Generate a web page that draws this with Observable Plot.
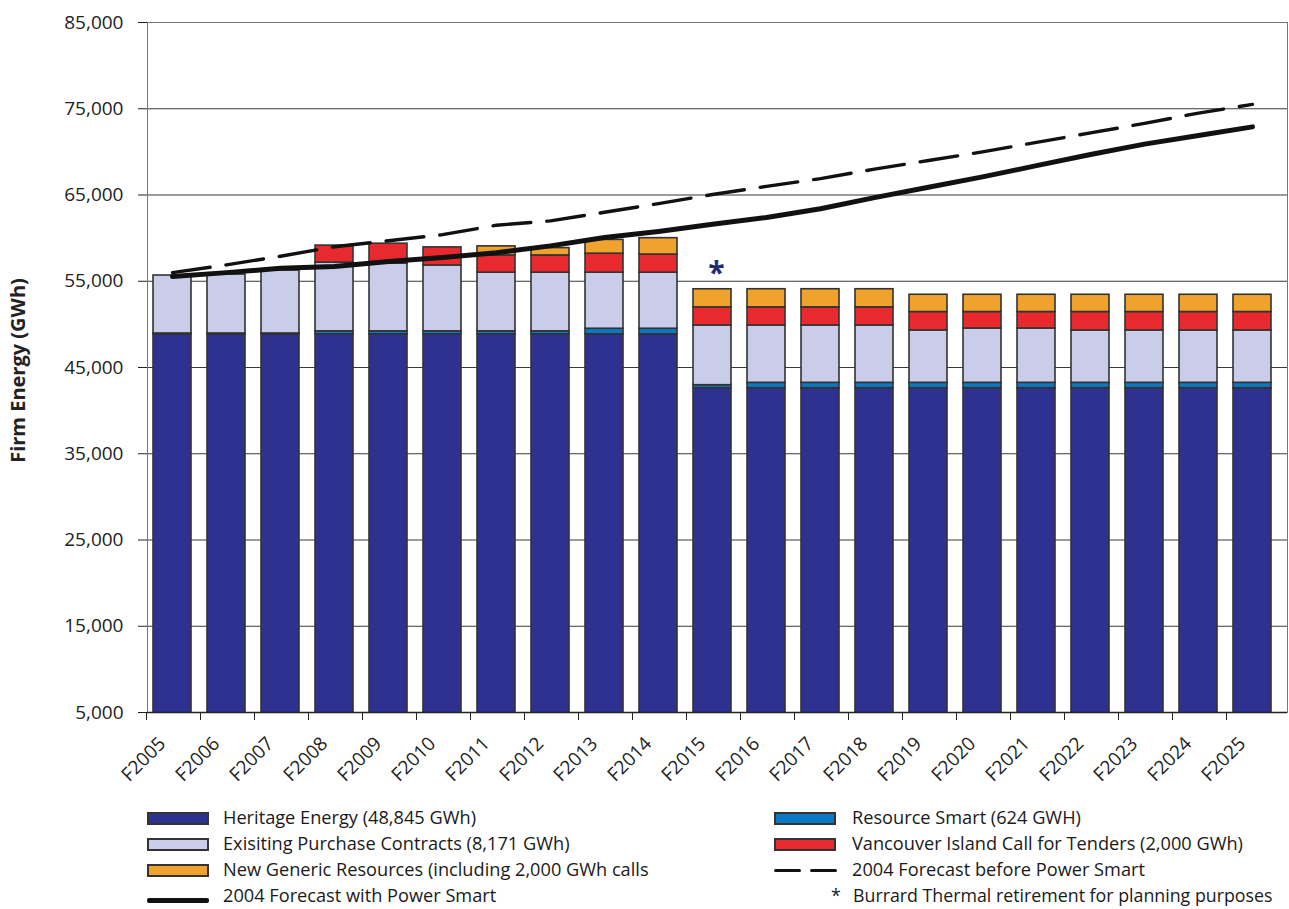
<!DOCTYPE html>
<html><head><meta charset="utf-8">
<script src="https://cdn.jsdelivr.net/npm/d3@7"></script>
<script src="https://cdn.jsdelivr.net/npm/@observablehq/plot@0.6"></script>
<style>
body{margin:0;background:#fff;font-family:"Open Sans",sans-serif;}
#wrap{position:relative;width:1289px;height:909px;overflow:hidden;background:#fff}
.leg{position:absolute;font-size:18.2px;color:#1a1a1a;white-space:nowrap;line-height:20px;height:21px}
.sw{position:absolute;width:58px;height:9px;border:2px solid #333;}
.ln{position:absolute;height:5px;background:#111;border-radius:2px}
</style></head><body><div id="wrap"><div id="chart"></div></div>
<script>
const years = ["F2005","F2006","F2007","F2008","F2009","F2010","F2011","F2012","F2013","F2014","F2015","F2016","F2017","F2018","F2019","F2020","F2021","F2022","F2023","F2024","F2025"];
const heritage = [48845,48845,48845,48845,48845,48845,48845,48845,48845,48845,42600,42600,42600,42600,42600,42600,42600,42600,42600,42600,42600];
const resourceSmart = [100,100,100,350,350,350,350,350,650,650,350,624,624,624,624,624,624,624,624,624,624];
const contracts = [6720,6830,7300,7970,7860,7630,6800,6800,6500,6500,6920,6650,6650,6650,6070,6300,6300,6070,6070,6070,6070];
const vancouver = [0,0,0,1970,2300,2100,2000,2000,2200,2100,2100,2100,2100,2100,2140,1910,1910,2140,2140,2140,2140];
const generic = [0,0,0,0,0,0,1050,850,1600,1900,2100,2100,2100,2100,2000,2000,2000,2000,2000,2000,2000];
const forecastWithPS = [55550,56000,56500,56700,57300,57750,58300,59100,60070,60770,61600,62400,63400,64700,65900,67100,68400,69700,70900,71900,72900];
const forecastBeforePS = [56000,56900,57900,59000,59700,60400,61500,62000,63000,64000,65060,66000,66900,68000,69000,70000,71100,72200,73300,74500,75500];
const yTicks = [5000,15000,25000,35000,45000,55000,65000,75000,85000];
const gridTicks = [15000,25000,35000,45000,55000,65000,75000];

const seriesNames = ["Heritage Energy","Resource Smart","Existing Purchase Contracts","Vancouver Island Call for Tenders","New Generic Resources"];
const seriesColors = ["#2e3190","#0a78c2","#c9cde9","#e8292d","#efa22c"];
const seriesValues = [heritage, resourceSmart, contracts, vancouver, generic];

const stackData = [];
years.forEach((yr, i) => {
  seriesValues.forEach((vals, s) => stackData.push({year: yr, series: seriesNames[s], value: vals[i]}));
});
const lineWith = years.map((yr, i) => ({year: yr, value: forecastWithPS[i]}));
const lineBefore = years.map((yr, i) => ({year: yr, value: forecastBeforePS[i]}));

const chart = Plot.plot({
  width: 1289,
  height: 800,
  marginLeft: 147,
  marginRight: 2,
  marginTop: 22,
  marginBottom: 88,
  style: {fontFamily: "Open Sans, sans-serif", color: "#222", background: "#fff"},
  x: {domain: years, paddingInner: 0.3, paddingOuter: 0.15, insetRight: 6},
  y: {domain: [5000, 85000]},
  color: {domain: seriesNames, range: seriesColors},
  marks: [
    Plot.gridY(gridTicks, {stroke: "#3a3a3a", strokeOpacity: 1, strokeWidth: 1.1}),
    Plot.barY(stackData, {x: "year", y: "value", fill: "series", stroke: "#333", strokeWidth: 1.6, clip: true, dx: -2, order: null}),
    Plot.line(lineBefore, {x: "year", y: "value", stroke: "#111", strokeWidth: 3.4, strokeDasharray: "38,16", dx: -2}),
    Plot.line(lineWith, {x: "year", y: "value", stroke: "#111", strokeWidth: 5, strokeLinecap: "round", dx: -2}),
    Plot.text([{year: "F2015", value: 56500}], {x: "year", y: "value", text: () => "*", fontSize: 30, fontWeight: "bold", fill: "#1f2d6f", dx: 2, dy: 5}),
    Plot.frame({stroke: "#777", strokeWidth: 1}),
    Plot.axisY(yTicks, {tickFormat: d3.format(","), tickSize: 9, tickPadding: 15, fontSize: 19, label: null, stroke: "#222"}),
    Plot.axisX({tickSize: 8, text: null, dx: -28, stroke: "#222", label: null}),
    Plot.axisX({tickSize: 0, tickPadding: 0, tickRotate: -45, textAnchor: "end", lineAnchor: "middle", fontSize: 19, dx: -12, dy: 28, label: null}),
    Plot.ruleY([5000], {stroke: "#222", strokeWidth: 1.5}),
    Plot.text(["Firm Energy (GWh)"], {frameAnchor: "left", textAnchor: "middle", dx: -129, dy: 3, rotate: -90, text: d => d, fontSize: 20, fontWeight: "bold", fill: "#222"})
  ]
});
document.getElementById("chart").appendChild(chart);

// Legend
const wrap = document.getElementById("wrap");
function add(html){ wrap.insertAdjacentHTML("beforeend", html); }
const legendItems = [
  {kind: "box", color: seriesColors[0], text: "Heritage Energy (48,845 GWh)", x: 147, tx: 223, y: 818},
  {kind: "box", color: seriesColors[2], text: "Exisiting Purchase Contracts (8,171 GWh)", x: 147, tx: 223, y: 844},
  {kind: "box", color: seriesColors[4], text: "New Generic Resources (including 2,000 GWh calls", x: 147, tx: 223, y: 870},
  {kind: "solid", text: "2004 Forecast with Power Smart", x: 147, tx: 223, y: 896},
  {kind: "box", color: seriesColors[1], text: "Resource Smart (624 GWH)", x: 774, tx: 852, y: 818},
  {kind: "box", color: seriesColors[3], text: "Vancouver Island Call for Tenders (2,000 GWh)", x: 774, tx: 852, y: 844},
  {kind: "dash", text: "2004 Forecast before Power Smart", x: 774, tx: 852, y: 870},
  {kind: "star", text: "<span style=\"display:inline-block;width:22px\">*</span>Burrard Thermal retirement for planning purposes", x: 831, tx: 831, y: 896}
];
legendItems.forEach(it => {
  if (it.kind === "box") add(`<div class="sw" style="left:${it.x}px;top:${it.y-6}px;background:${it.color}"></div>`);
  else if (it.kind === "solid") add(`<div class="ln" style="left:${it.x}px;top:${it.y+2}px;width:62px"></div>`);
  else if (it.kind === "dash") { add(`<div class="ln" style="left:${it.x}px;top:${it.y-1}px;width:27px;height:3px"></div>`); add(`<div class="ln" style="left:${it.x+36}px;top:${it.y-1}px;width:27px;height:3px"></div>`); }
  const fs = it.kind === "star" ? "font-size:17.8px;" : "";
  add(`<div class="leg" style="${fs}left:${it.tx}px;top:${it.y-11}px">${it.text}</div>`);
});
</script></body></html>
